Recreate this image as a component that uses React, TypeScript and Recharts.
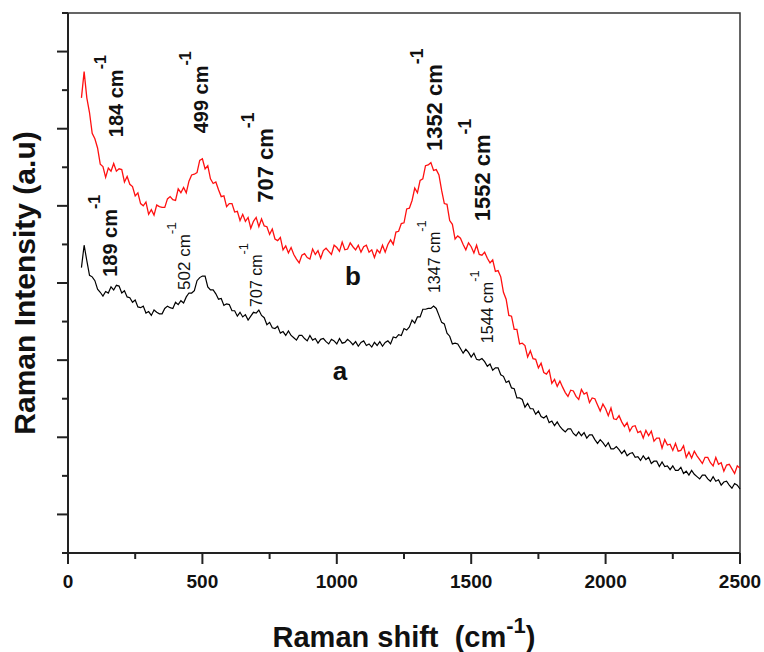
import { LineChart, Line, XAxis, YAxis, ReferenceArea, ReferenceDot } from 'recharts'

// Raman shift grid, cm-1 (one reading every 10 cm-1)
const shift = Array.from({ length: 246 }, (_, i) => 50 + i * 10)

// sample b (red), arbitrary units
const sampleB = [
  5.90,
  6.24, 5.90, 5.71, 5.44, 5.37, 5.25, 5.04, 5.01, 4.87, 4.99,
  4.95, 5.05, 4.95, 4.98, 4.97, 4.81, 4.88, 4.78, 4.75, 4.63,
  4.67, 4.53, 4.50, 4.55, 4.39, 4.45, 4.38, 4.51, 4.49, 4.48,
  4.48, 4.59, 4.62, 4.58, 4.57, 4.72, 4.67, 4.74, 4.67, 4.82,
  4.90, 4.91, 4.93, 5.09, 5.11, 4.98, 5.02, 4.85, 4.79, 4.81,
  4.71, 4.62, 4.63, 4.49, 4.53, 4.53, 4.42, 4.43, 4.31, 4.39,
  4.30, 4.35, 4.21, 4.30, 4.35, 4.23, 4.33, 4.24, 4.23, 4.13,
  4.20, 4.07, 4.05, 4.09, 3.93, 3.98, 3.89, 3.96, 3.87, 3.81,
  3.76, 3.86, 3.88, 3.83, 3.81, 3.94, 3.87, 3.92, 3.82, 3.92,
  3.95, 3.91, 3.87, 3.99, 3.96, 3.91, 4.03, 3.93, 3.94, 4.02,
  3.97, 3.93, 3.99, 3.90, 3.97, 3.99, 3.90, 3.93, 3.83, 3.93,
  3.89, 3.99, 3.90, 4.00, 4.06, 4.00, 4.16, 4.17, 4.27, 4.28,
  4.46, 4.47, 4.57, 4.73, 4.67, 4.83, 4.85, 5.02, 5.03, 5.06,
  4.96, 4.97, 4.90, 4.70, 4.53, 4.52, 4.31, 4.26, 4.07, 4.11,
  4.08, 4.00, 3.93, 4.02, 3.97, 3.89, 3.99, 3.87, 3.86, 3.90,
  3.82, 3.76, 3.80, 3.65, 3.66, 3.58, 3.38, 3.29, 3.08, 3.07,
  2.90, 2.90, 2.71, 2.72, 2.69, 2.54, 2.62, 2.52, 2.51, 2.40,
  2.46, 2.34, 2.32, 2.37, 2.20, 2.25, 2.16, 2.23, 2.15, 2.08,
  2.03, 2.11, 2.10, 2.03, 1.99, 2.12, 2.06, 2.08, 1.95, 2.01,
  2.00, 1.92, 1.84, 1.93, 1.87, 1.78, 1.88, 1.74, 1.73, 1.78,
  1.70, 1.64, 1.69, 1.58, 1.64, 1.65, 1.56, 1.58, 1.49, 1.59,
  1.52, 1.58, 1.45, 1.49, 1.49, 1.36, 1.47, 1.40, 1.41, 1.33,
  1.42, 1.32, 1.33, 1.39, 1.24, 1.31, 1.23, 1.32, 1.26, 1.21,
  1.16, 1.24, 1.24, 1.17, 1.13, 1.24, 1.15, 1.17, 1.06, 1.14,
  1.15, 1.09, 1.03, 1.13, 1.10,
]

// sample a (black)
const sampleA = [
  3.70, 3.99, 3.79, 3.60, 3.58, 3.53, 3.42, 3.38, 3.33, 3.39,
  3.37, 3.45, 3.41, 3.47, 3.46, 3.37, 3.40, 3.32, 3.31, 3.25,
  3.28, 3.19, 3.18, 3.20, 3.11, 3.13, 3.08, 3.15, 3.12, 3.10,
  3.10, 3.17, 3.20, 3.18, 3.17, 3.25, 3.22, 3.27, 3.24, 3.32,
  3.37, 3.37, 3.40, 3.53, 3.57, 3.59, 3.59, 3.45, 3.41, 3.41,
  3.36, 3.29, 3.30, 3.21, 3.23, 3.22, 3.14, 3.14, 3.07, 3.12,
  3.06, 3.09, 3.02, 3.07, 3.12, 3.11, 3.15, 3.08, 3.05, 2.96,
  2.99, 2.92, 2.91, 2.94, 2.85, 2.87, 2.82, 2.88, 2.82, 2.79,
  2.76, 2.82, 2.82, 2.78, 2.75, 2.82, 2.76, 2.78, 2.72, 2.77,
  2.78, 2.74, 2.71, 2.77, 2.75, 2.71, 2.78, 2.72, 2.73, 2.77,
  2.74, 2.70, 2.74, 2.68, 2.73, 2.75, 2.69, 2.71, 2.67, 2.73,
  2.69, 2.74, 2.68, 2.73, 2.75, 2.71, 2.80, 2.79, 2.83, 2.82,
  2.91, 2.89, 2.93, 3.02, 2.98, 3.06, 3.06, 3.16, 3.16, 3.17,
  3.17, 3.20, 3.17, 3.08, 2.99, 2.97, 2.85, 2.81, 2.71, 2.72,
  2.71, 2.65, 2.59, 2.64, 2.60, 2.54, 2.59, 2.51, 2.50, 2.52,
  2.48, 2.42, 2.45, 2.37, 2.40, 2.40, 2.31, 2.29, 2.21, 2.23,
  2.14, 2.13, 2.01, 2.01, 1.99, 1.89, 1.94, 1.87, 1.87, 1.80,
  1.84, 1.77, 1.75, 1.78, 1.69, 1.71, 1.65, 1.70, 1.64, 1.60,
  1.57, 1.61, 1.61, 1.55, 1.52, 1.57, 1.52, 1.56, 1.49, 1.53,
  1.53, 1.47, 1.42, 1.47, 1.43, 1.38, 1.43, 1.35, 1.35, 1.38,
  1.34, 1.29, 1.33, 1.26, 1.29, 1.30, 1.24, 1.25, 1.20, 1.26,
  1.21, 1.24, 1.16, 1.19, 1.19, 1.12, 1.18, 1.12, 1.13, 1.08,
  1.13, 1.07, 1.07, 1.11, 1.03, 1.06, 1.01, 1.07, 1.02, 0.99,
  0.96, 1.01, 1.01, 0.96, 0.93, 0.99, 0.93, 0.95, 0.88, 0.92,
  0.93, 0.88, 0.84, 0.90, 0.88, 0.83,
]

const xTicks = [0, 250, 500, 750, 1000, 1250, 1500, 1750, 2000, 2250, 2500]
const yTicks = [0, 0.5, 1, 1.5, 2, 2.5, 3, 3.5, 4, 4.5, 5, 5.5, 6, 6.5, 7]

// peak labels: where the text starts (shift, intensity)
const peakLabels = [
  { x: 205, y: 5.39, text: '184 cm', size: 20, bold: true },
  { x: 521, y: 5.44, text: '499 cm', size: 20, bold: true },
  { x: 763, y: 4.54, text: '707 cm', size: 22, bold: true },
  { x: 1391, y: 5.21, text: '1352 cm', size: 22, bold: true },
  { x: 1570, y: 4.3, text: '1552 cm', size: 22, bold: true },
  { x: 182, y: 3.58, text: '189 cm', size: 20, bold: true },
  { x: 454, y: 3.41, text: '502 cm', size: 17, bold: false },
  { x: 722, y: 3.19, text: '707 cm', size: 16, bold: false },
  { x: 1384, y: 3.37, text: '1347 cm', size: 16, bold: false },
  { x: 1581, y: 2.72, text: '1544 cm', size: 16, bold: false },
]

const curveTags = [
  { x: 1060, y: 3.47, text: 'b' },
  { x: 1012, y: 2.24, text: 'a' },
]

const data = shift.map((s, i) => ({ shift: s, a: sampleA[i], b: sampleB[i] }))

const FONT = "'Liberation Sans', Arial, sans-serif"
const AXIS = '#222'

function XTick({ x, y, payload }: any) {
  const major = payload.value % 500 === 0
  return (
    <g>
      <line x1={x} x2={x} y1={y} y2={y + (major ? 11 : 6)} stroke={AXIS} strokeWidth={2} />
      {major && (
        <text x={x} y={y + 35} textAnchor="middle" fontFamily={FONT} fontWeight={700} fontSize={19} fill="#111">
          {payload.value}
        </text>
      )}
    </g>
  )
}

function YTick({ x, y, payload }: any) {
  const major = payload.value % 1 === 0.5
  return <line x1={x - (major ? 11 : 6)} x2={x} y1={y} y2={y} stroke={AXIS} strokeWidth={2} />
}

function PeakText({ cx, cy, text, size, bold }: any) {
  return (
    <text
      transform={`translate(${cx},${cy}) rotate(-90)`}
      fontFamily={FONT}
      fontSize={size}
      fontWeight={bold ? 700 : 400}
      fill="#111"
    >
      {text}
      <tspan dy={-size * 0.85} fontSize={size * 0.8}>-1</tspan>
    </text>
  )
}

function Tag({ cx, cy, text }: any) {
  return (
    <text x={cx} y={cy} textAnchor="middle" fontFamily={FONT} fontSize={26} fontWeight={700} fill="#111">
      {text}
    </text>
  )
}

export default function App() {
  return (
    <div style={{ position: 'absolute', left: 0, top: 0, width: 764, height: 652, background: '#fff' }}>
      <LineChart width={764} height={652} data={data} margin={{ top: 13, right: 24, bottom: 0, left: 0 }}>
        <XAxis
          dataKey="shift"
          type="number"
          domain={[0, 2500]}
          ticks={xTicks}
          interval={0}
          height={99}
          tickSize={0}
          tickMargin={0}
          tickLine={false}
          tick={<XTick />}
          axisLine={{ stroke: AXIS, strokeWidth: 2 }}
          label={{
            content: ({ viewBox }: any) => (
              <text
                x={viewBox.x + viewBox.width / 2}
                y={viewBox.y + 94}
                textAnchor="middle"
                fontFamily={FONT}
                fontWeight={700}
                fontSize={29}
                fill="#111"
                style={{ whiteSpace: 'pre' }}
              >
                {'Raman shift  (cm'}
                <tspan dy={-14} fontSize={22}>-1</tspan>
                <tspan dy={14}>)</tspan>
              </text>
            ),
          }}
        />
        <YAxis
          type="number"
          domain={[0, 7]}
          ticks={yTicks}
          interval={0}
          width={68}
          tickSize={0}
          tickMargin={0}
          tickLine={false}
          tick={<YTick />}
          axisLine={{ stroke: AXIS, strokeWidth: 2 }}
          label={{
            content: ({ viewBox }: any) => (
              <text
                transform={`translate(35,${viewBox.y + viewBox.height / 2}) rotate(-90)`}
                textAnchor="middle"
                fontFamily={FONT}
                fontWeight={700}
                fontSize={30}
                fill="#111"
              >
                Raman Intensity (a.u)
              </text>
            ),
          }}
        />
        <ReferenceArea x1={0} x2={2500} y1={0} y2={7} fill="none" stroke="#333" strokeWidth={1.5} />
        <Line type="linear" dataKey="b" stroke="#ff1010" strokeWidth={1.3} dot={false} isAnimationActive={false} />
        <Line type="linear" dataKey="a" stroke="#000" strokeWidth={1.2} dot={false} isAnimationActive={false} />
        {peakLabels.map((p) => (
          <ReferenceDot
            key={p.text + p.x}
            x={p.x}
            y={p.y}
            r={0}
            shape={(props: any) => <PeakText {...props} text={p.text} size={p.size} bold={p.bold} />}
          />
        ))}
        {curveTags.map((t) => (
          <ReferenceDot key={t.text} x={t.x} y={t.y} r={0} shape={(props: any) => <Tag {...props} text={t.text} />} />
        ))}
      </LineChart>
    </div>
  )
}
